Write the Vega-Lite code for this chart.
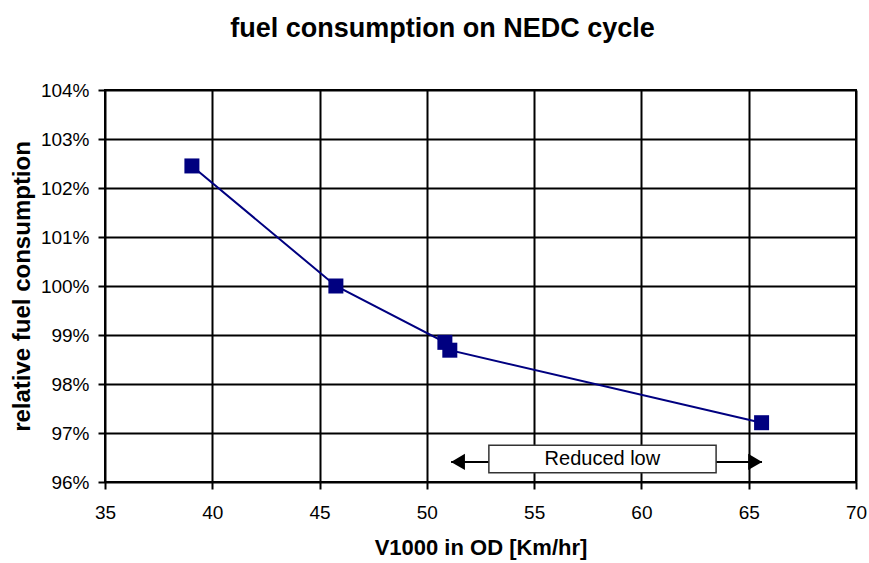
{
  "$schema": "https://vega.github.io/schema/vega-lite/v6.json",
  "width": 751,
  "height": 392,
  "autosize": "none",
  "padding": {"left": 105, "top": 90, "right": 13, "bottom": 81},
  "background": "white",
  "config": {
    "font": "Liberation Sans",
    "view": {"stroke": "black", "strokeWidth": 2},
    "axis": {
      "grid": true, "gridColor": "black", "gridWidth": 2, "gridOpacity": 1,
      "domain": false, "tickColor": "black", "tickWidth": 2, "tickSize": 7,
      "labelFont": "Liberation Sans", "labelFontSize": 19, "labelColor": "black",
      "labelFlush": false, "labelOverlap": false,
      "titleFont": "Liberation Sans", "titleFontWeight": "bold", "titleColor": "black"
    },
    "axisX": {"titleFontSize": 22},
    "axisY": {"titleFontSize": 24}
  },
  "title": {
    "text": "fuel consumption on NEDC cycle",
    "font": "Liberation Sans", "fontSize": 27, "fontWeight": "bold", "color": "black",
    "anchor": "middle", "frame": "group", "dx": -38, "offset": 38
  },
  "data": {"values": [
    {"v1000": 39.05, "fc": 102.45},
    {"v1000": 45.76, "fc": 100.0},
    {"v1000": 50.84, "fc": 98.85},
    {"v1000": 51.07, "fc": 98.69},
    {"v1000": 65.6, "fc": 97.21}
  ]},
  "datasets": {
    "arrow": [{"x1": 51.13, "x2": 65.62, "y": 96.41}],
    "heads": [
      {"x": 51.45, "y": 96.41, "dir": "left"},
      {"x": 65.3, "y": 96.41, "dir": "right"}
    ],
    "box": [{"x1": 52.89, "x2": 63.48, "y1": 96.19, "y2": 96.75, "label": "Reduced low", "xc": 58.18, "yc": 96.46}]
  },
  "layer": [
    {
      "mark": {"type": "line", "color": "#000080", "strokeWidth": 2},
      "encoding": {
        "x": {"field": "v1000", "type": "quantitative", "scale": {"domain": [35, 70], "nice": false, "zero": false},
              "axis": {"title": "V1000 in OD [Km/hr]", "values": [35, 40, 45, 50, 55, 60, 65, 70], "labelPadding": 14, "titlePadding": 15}},
        "y": {"field": "fc", "type": "quantitative", "scale": {"domain": [96, 104], "nice": false, "zero": false},
              "axis": {"title": "relative fuel consumption", "values": [96, 97, 98, 99, 100, 101, 102, 103, 104], "labelExpr": "datum.value + '%'", "labelPadding": 9, "titlePadding": 6}}
      }
    },
    {
      "mark": {"type": "point", "shape": "square", "filled": true, "color": "#000080", "opacity": 1, "size": 225},
      "encoding": {
        "x": {"field": "v1000", "type": "quantitative",
              "axis": {"title": "V1000 in OD [Km/hr]", "values": [35, 40, 45, 50, 55, 60, 65, 70], "labelPadding": 14, "titlePadding": 15}},
        "y": {"field": "fc", "type": "quantitative",
              "axis": {"title": "relative fuel consumption", "values": [96, 97, 98, 99, 100, 101, 102, 103, 104], "labelExpr": "datum.value + '%'", "labelPadding": 9, "titlePadding": 6}}
      }
    },
    {
      "data": {"name": "arrow"},
      "mark": {"type": "rule", "color": "black", "strokeWidth": 2},
      "encoding": {
        "x": {"field": "x1", "type": "quantitative",
              "axis": {"title": "V1000 in OD [Km/hr]", "values": [35, 40, 45, 50, 55, 60, 65, 70], "labelPadding": 14, "titlePadding": 15}},
        "x2": {"field": "x2"},
        "y": {"field": "y", "type": "quantitative",
              "axis": {"title": "relative fuel consumption", "values": [96, 97, 98, 99, 100, 101, 102, 103, 104], "labelExpr": "datum.value + '%'", "labelPadding": 9, "titlePadding": 6}}
      }
    },
    {
      "data": {"name": "heads"},
      "mark": {"type": "point", "filled": true, "color": "black", "opacity": 1, "size": 260},
      "encoding": {
        "x": {"field": "x", "type": "quantitative",
              "axis": {"title": "V1000 in OD [Km/hr]", "values": [35, 40, 45, 50, 55, 60, 65, 70], "labelPadding": 14, "titlePadding": 15}},
        "y": {"field": "y", "type": "quantitative",
              "axis": {"title": "relative fuel consumption", "values": [96, 97, 98, 99, 100, 101, 102, 103, 104], "labelExpr": "datum.value + '%'", "labelPadding": 9, "titlePadding": 6}},
        "shape": {"field": "dir", "type": "nominal", "scale": {"domain": ["left", "right"], "range": ["triangle-left", "triangle-right"]}, "legend": null}
      }
    },
    {
      "data": {"name": "box"},
      "mark": {"type": "rect", "fill": "white", "stroke": "#333333", "strokeWidth": 1.5},
      "encoding": {
        "x": {"field": "x1", "type": "quantitative",
              "axis": {"title": "V1000 in OD [Km/hr]", "values": [35, 40, 45, 50, 55, 60, 65, 70], "labelPadding": 14, "titlePadding": 15}},
        "x2": {"field": "x2"},
        "y": {"field": "y1", "type": "quantitative",
              "axis": {"title": "relative fuel consumption", "values": [96, 97, 98, 99, 100, 101, 102, 103, 104], "labelExpr": "datum.value + '%'", "labelPadding": 9, "titlePadding": 6}},
        "y2": {"field": "y2"}
      }
    },
    {
      "data": {"name": "box"},
      "mark": {"type": "text", "fontSize": 20, "color": "black", "baseline": "middle", "align": "center", "font": "Liberation Sans"},
      "encoding": {
        "x": {"field": "xc", "type": "quantitative",
              "axis": {"title": "V1000 in OD [Km/hr]", "values": [35, 40, 45, 50, 55, 60, 65, 70], "labelPadding": 14, "titlePadding": 15}},
        "y": {"field": "yc", "type": "quantitative",
              "axis": {"title": "relative fuel consumption", "values": [96, 97, 98, 99, 100, 101, 102, 103, 104], "labelExpr": "datum.value + '%'", "labelPadding": 9, "titlePadding": 6}},
        "text": {"field": "label"}
      }
    }
  ]
}
